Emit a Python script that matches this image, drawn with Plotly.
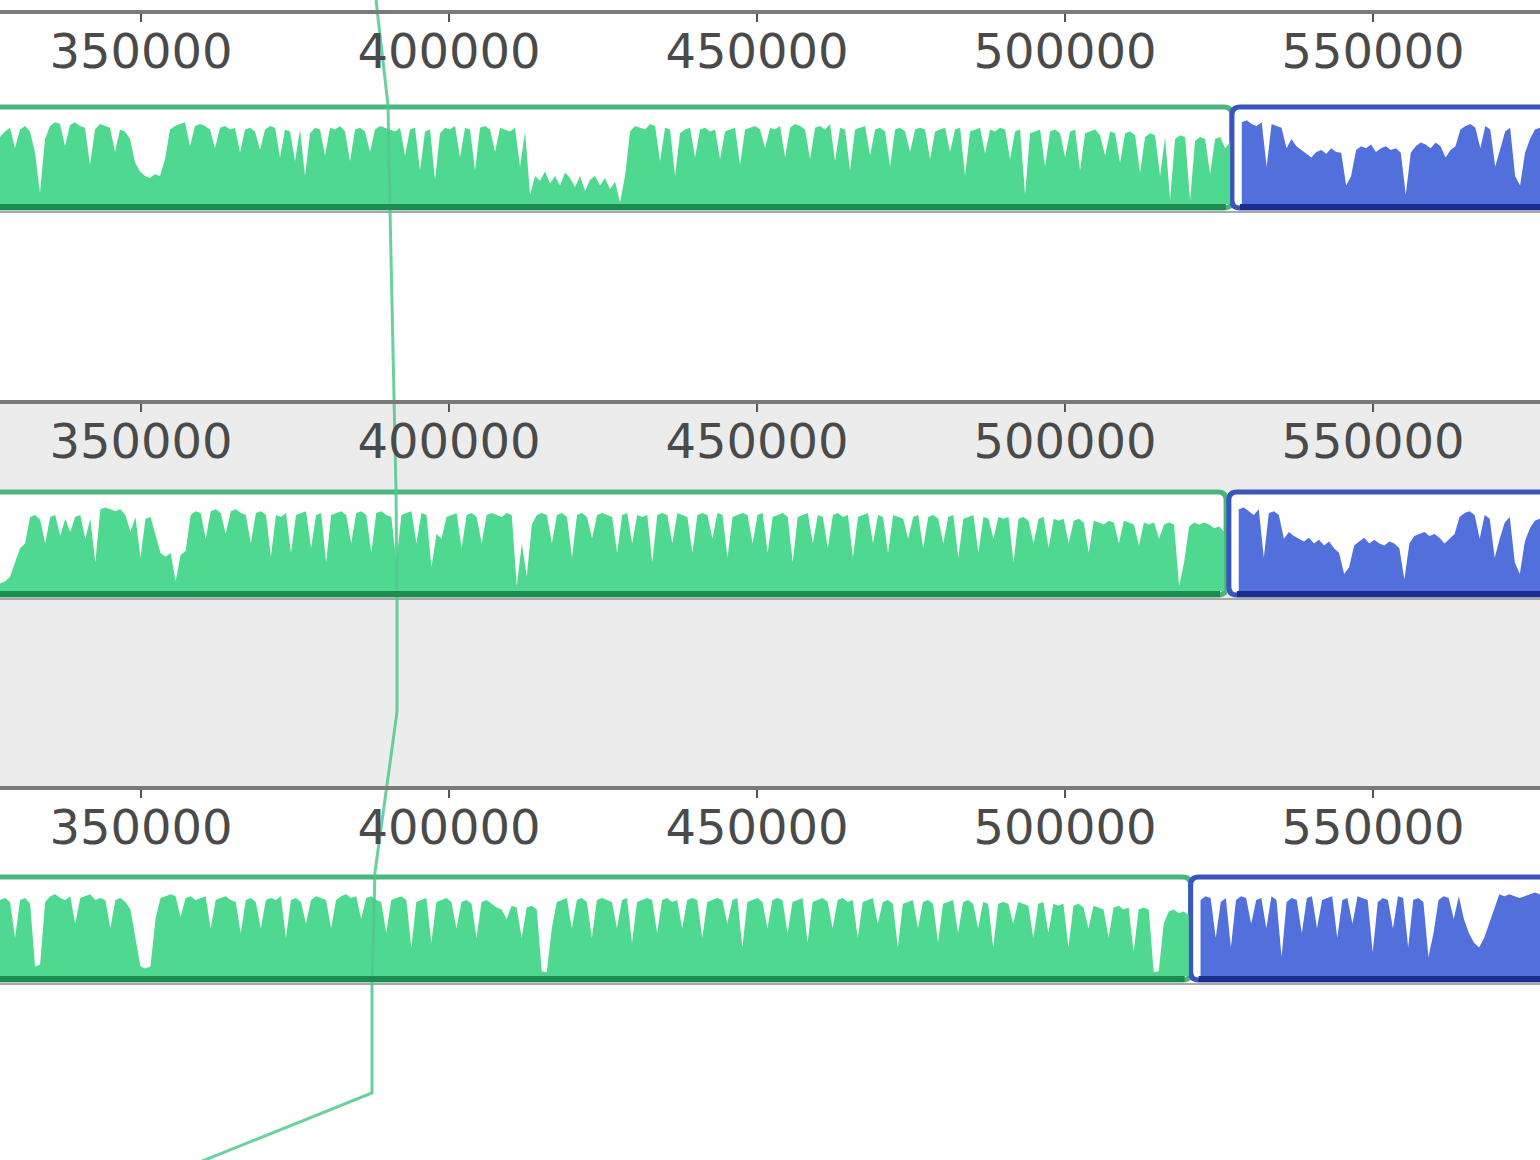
import numpy as np
import plotly.graph_objects as go

# ---------------- data ----------------
view_range = [327110, 577110]
tick_values = [350000, 400000, 450000, 500000, 550000]
tick_labels = ["350000", "400000", "450000", "500000", "550000"]

# LCB block extents (genome coordinates) per genome track
green_start = [320000, 320000, 320000]
green_end = [527100, 526150, 520400]
blue_start = [528400, 527900, 521700]
blue_end = [600000, 600000, 600000]

# conservation profiles (fraction of block height), read left to right
green_profile_1 = [
    0.72, 0.78, 0.82, 0.60, 0.80, 0.84, 0.78, 0.55, 0.12, 0.70,
    0.84, 0.88, 0.86, 0.62, 0.85, 0.88, 0.84, 0.82, 0.42, 0.80,
    0.86, 0.84, 0.82, 0.56, 0.80, 0.78, 0.70, 0.45, 0.35, 0.30,
    0.28, 0.32, 0.30, 0.48, 0.80, 0.84, 0.86, 0.88, 0.62, 0.84,
    0.86, 0.84, 0.80, 0.60, 0.82, 0.84, 0.80, 0.82, 0.55, 0.80,
    0.82, 0.78, 0.58, 0.80, 0.84, 0.82, 0.50, 0.80, 0.78, 0.46,
    0.80, 0.30, 0.76, 0.82, 0.80, 0.52, 0.82, 0.80, 0.84, 0.78,
    0.46, 0.80, 0.82, 0.78, 0.56, 0.80, 0.84, 0.82, 0.80, 0.78,
    0.82, 0.52, 0.80, 0.82, 0.36, 0.78, 0.80, 0.26, 0.76, 0.82,
    0.80, 0.84, 0.50, 0.82, 0.80, 0.36, 0.82, 0.84, 0.80, 0.56,
    0.82, 0.80, 0.78, 0.82, 0.40, 0.78, 0.10, 0.30, 0.25, 0.35,
    0.22, 0.30, 0.20, 0.34, 0.28, 0.18, 0.30, 0.14, 0.26, 0.30,
    0.20, 0.28, 0.16, 0.24, 0.02, 0.30, 0.78, 0.84, 0.82, 0.80,
    0.86, 0.84, 0.46, 0.82, 0.80, 0.30, 0.76, 0.80, 0.82, 0.50,
    0.80, 0.82, 0.78, 0.80, 0.48, 0.78, 0.80, 0.82, 0.42, 0.80,
    0.82, 0.84, 0.80, 0.60, 0.82, 0.80, 0.84, 0.50, 0.82, 0.86,
    0.84, 0.80, 0.48, 0.82, 0.84, 0.80, 0.86, 0.46, 0.82, 0.80,
    0.36, 0.80, 0.82, 0.84, 0.52, 0.80, 0.82, 0.78, 0.40, 0.80,
    0.82, 0.78, 0.56, 0.80, 0.82, 0.80, 0.48, 0.78, 0.80, 0.82,
    0.56, 0.80, 0.82, 0.30, 0.78, 0.80, 0.82, 0.54, 0.80, 0.78,
    0.82, 0.80, 0.48, 0.78, 0.80, 0.10, 0.76, 0.78, 0.80, 0.40,
    0.78, 0.80, 0.76, 0.50, 0.78, 0.80, 0.36, 0.76, 0.78, 0.80,
    0.74, 0.52, 0.78, 0.76, 0.44, 0.76, 0.78, 0.74, 0.34, 0.72,
    0.76, 0.74, 0.30, 0.72, 0.05, 0.70, 0.74, 0.72, 0.04, 0.68,
    0.72, 0.70, 0.32, 0.70, 0.72, 0.60, 0.66]
green_profile_2 = [
    0.08, 0.10, 0.15, 0.30, 0.45, 0.50, 0.78, 0.80, 0.75, 0.50,
    0.78, 0.80, 0.58, 0.76, 0.62, 0.78, 0.80, 0.55, 0.76, 0.30,
    0.86, 0.88, 0.86, 0.84, 0.86, 0.80, 0.62, 0.78, 0.35, 0.76,
    0.78, 0.60, 0.40, 0.36, 0.40, 0.10, 0.38, 0.42, 0.80, 0.84,
    0.82, 0.55, 0.84, 0.86, 0.82, 0.60, 0.84, 0.86, 0.82, 0.80,
    0.50, 0.82, 0.84, 0.80, 0.36, 0.80, 0.78, 0.82, 0.40, 0.80,
    0.82, 0.84, 0.45, 0.80, 0.82, 0.30, 0.80, 0.82, 0.84, 0.80,
    0.50, 0.82, 0.84, 0.80, 0.40, 0.82, 0.84, 0.80, 0.78, 0.30,
    0.80, 0.82, 0.84, 0.50, 0.82, 0.80, 0.25, 0.60, 0.55, 0.78,
    0.80, 0.82, 0.45, 0.80, 0.82, 0.78, 0.50, 0.80, 0.82, 0.80,
    0.78, 0.82, 0.80, 0.05, 0.50, 0.15, 0.70, 0.80, 0.82, 0.80,
    0.50, 0.80, 0.82, 0.78, 0.35, 0.80, 0.82, 0.78, 0.55, 0.80,
    0.82, 0.80, 0.78, 0.40, 0.80, 0.82, 0.50, 0.80, 0.78, 0.80,
    0.30, 0.80, 0.82, 0.80, 0.50, 0.82, 0.80, 0.78, 0.40, 0.80,
    0.82, 0.80, 0.55, 0.82, 0.80, 0.35, 0.78, 0.80, 0.82, 0.80,
    0.50, 0.80, 0.82, 0.40, 0.78, 0.80, 0.82, 0.78, 0.30, 0.78,
    0.80, 0.82, 0.50, 0.80, 0.78, 0.45, 0.80, 0.82, 0.78, 0.80,
    0.35, 0.78, 0.80, 0.82, 0.50, 0.80, 0.78, 0.40, 0.80, 0.78,
    0.76, 0.55, 0.78, 0.80, 0.45, 0.78, 0.80, 0.76, 0.50, 0.78,
    0.80, 0.35, 0.76, 0.78, 0.80, 0.40, 0.78, 0.76, 0.55, 0.78,
    0.76, 0.78, 0.30, 0.76, 0.78, 0.74, 0.50, 0.76, 0.78, 0.45,
    0.76, 0.74, 0.76, 0.50, 0.74, 0.76, 0.72, 0.40, 0.74, 0.72,
    0.70, 0.74, 0.72, 0.50, 0.74, 0.72, 0.70, 0.48, 0.72, 0.70,
    0.72, 0.55, 0.70, 0.72, 0.70, 0.05, 0.30, 0.68, 0.72, 0.70,
    0.72, 0.70, 0.66, 0.68, 0.62]
green_profile_3 = [
    0.80, 0.82, 0.78, 0.40, 0.80, 0.82, 0.76, 0.10, 0.12, 0.78,
    0.84, 0.86, 0.82, 0.80, 0.84, 0.55, 0.82, 0.84, 0.86, 0.80,
    0.82, 0.80, 0.50, 0.80, 0.82, 0.78, 0.70, 0.40, 0.10, 0.08,
    0.10, 0.60, 0.82, 0.84, 0.86, 0.84, 0.62, 0.82, 0.84, 0.80,
    0.82, 0.84, 0.50, 0.80, 0.82, 0.84, 0.80, 0.78, 0.45, 0.80,
    0.82, 0.78, 0.50, 0.80, 0.82, 0.80, 0.84, 0.40, 0.80, 0.82,
    0.78, 0.55, 0.80, 0.84, 0.82, 0.80, 0.50, 0.80, 0.84, 0.86,
    0.82, 0.84, 0.60, 0.82, 0.84, 0.80, 0.78, 0.45, 0.80, 0.82,
    0.84, 0.80, 0.30, 0.78, 0.80, 0.82, 0.35, 0.78, 0.80, 0.82,
    0.78, 0.50, 0.78, 0.80, 0.76, 0.40, 0.78, 0.80, 0.76, 0.72,
    0.70, 0.60, 0.74, 0.72, 0.40, 0.72, 0.74, 0.70, 0.05, 0.04,
    0.50, 0.78, 0.80, 0.82, 0.50, 0.80, 0.82, 0.78, 0.40, 0.80,
    0.82, 0.80, 0.78, 0.50, 0.80, 0.82, 0.35, 0.78, 0.80, 0.82,
    0.80, 0.45, 0.80, 0.82, 0.78, 0.80, 0.50, 0.80, 0.82, 0.80,
    0.40, 0.78, 0.80, 0.82, 0.80, 0.55, 0.80, 0.82, 0.30, 0.78,
    0.80, 0.82, 0.78, 0.50, 0.80, 0.82, 0.80, 0.45, 0.78, 0.80,
    0.82, 0.35, 0.78, 0.80, 0.82, 0.78, 0.50, 0.80, 0.82, 0.78,
    0.80, 0.40, 0.78, 0.80, 0.82, 0.55, 0.78, 0.80, 0.76, 0.30,
    0.76, 0.78, 0.80, 0.50, 0.78, 0.80, 0.76, 0.35, 0.76, 0.78,
    0.80, 0.45, 0.78, 0.80, 0.76, 0.50, 0.78, 0.76, 0.30, 0.76,
    0.78, 0.76, 0.55, 0.78, 0.76, 0.74, 0.40, 0.76, 0.78, 0.45,
    0.76, 0.74, 0.76, 0.30, 0.74, 0.76, 0.72, 0.50, 0.74, 0.72,
    0.70, 0.40, 0.72, 0.74, 0.70, 0.72, 0.25, 0.70, 0.72, 0.70,
    0.04, 0.05, 0.55, 0.68, 0.70, 0.66, 0.68, 0.64]
blue_profile_1 = [
    0.88, 0.90, 0.86, 0.84, 0.88, 0.40, 0.86, 0.84, 0.82, 0.60,
    0.70, 0.62, 0.58, 0.55, 0.50, 0.56, 0.58, 0.54, 0.60, 0.56,
    0.55, 0.20, 0.30, 0.58, 0.62, 0.60, 0.64, 0.56, 0.60, 0.62,
    0.58, 0.60, 0.55, 0.10, 0.55, 0.62, 0.66, 0.64, 0.60, 0.66,
    0.62, 0.50, 0.58, 0.62, 0.80, 0.84, 0.86, 0.82, 0.60, 0.84,
    0.80, 0.40, 0.60, 0.78, 0.82, 0.30, 0.20, 0.55, 0.70, 0.80,
    0.82, 0.80]
blue_profile_2 = [
    0.86, 0.88, 0.84, 0.80, 0.86, 0.35, 0.82, 0.84, 0.80, 0.55,
    0.62, 0.58, 0.55, 0.52, 0.56, 0.50, 0.54, 0.48, 0.52, 0.45,
    0.40, 0.18, 0.25, 0.48, 0.52, 0.56, 0.50, 0.54, 0.50, 0.48,
    0.52, 0.50, 0.45, 0.12, 0.50, 0.58, 0.60, 0.62, 0.58, 0.60,
    0.56, 0.50, 0.55, 0.60, 0.78, 0.82, 0.84, 0.80, 0.55, 0.80,
    0.76, 0.35, 0.55, 0.72, 0.78, 0.30, 0.18, 0.52, 0.66, 0.74,
    0.76, 0.74]
blue_profile_3 = [
    0.80, 0.84, 0.82, 0.40, 0.78, 0.82, 0.30, 0.80, 0.84, 0.82,
    0.55, 0.80, 0.82, 0.50, 0.84, 0.80, 0.20, 0.78, 0.82, 0.80,
    0.45, 0.82, 0.84, 0.50, 0.80, 0.82, 0.84, 0.40, 0.80, 0.82,
    0.55, 0.84, 0.82, 0.80, 0.25, 0.78, 0.82, 0.80, 0.50, 0.84,
    0.82, 0.30, 0.80, 0.82, 0.78, 0.20, 0.45, 0.80, 0.84, 0.82,
    0.60, 0.84, 0.60, 0.45, 0.35, 0.30, 0.40, 0.55, 0.70, 0.86,
    0.84, 0.86, 0.84, 0.82, 0.84, 0.86, 0.88, 0.86, 0.84]

# LCB connecting line: genome position at each vertical anchor
connector_x = [388150, 390099, 390423, 391397, 391559, 391559, 387988, 387500, 387500, 352270]

# ---------------- layout constants (pixels) ----------------
W, H = 1540, 1160
axis_line_y = [12, 402, 788]
block_top = [107, 492, 877]
block_bot = [208, 595, 980]
connector_y = [0, 105, 210, 490, 600, 712, 872, 985, 1093, 1180]

GREEN_FILL = "#4fd890"
GREEN_EDGE = "#4ab57f"
GREEN_EDGE_DARK = "#1f8c4f"
BLUE_FILL = "#5270dc"
BLUE_EDGE = "#3a55bd"
BLUE_EDGE_DARK = "#1d2d8e"

fig = go.Figure()
shapes = []

# highlighted (middle) genome panel background
shapes.append(dict(type="rect", xref="paper", yref="y", x0=0, x1=1,
                   y0=axis_line_y[1], y1=axis_line_y[2], fillcolor="#ececec",
                   line=dict(width=0), layer="below"))

px_per_unit = W / (view_range[1] - view_range[0])


def block_path(x0, x1, y0, y1, r_px=8):
    rx = r_px / px_per_unit
    return (f"M {x0},{y0} L {x1 - rx},{y0} Q {x1},{y0} {x1},{y0 + r_px} "
            f"L {x1},{y1 - r_px} Q {x1},{y1} {x1 - rx},{y1} L {x0},{y1} "
            f"Q {x0 - rx},{y1} {x0 - rx},{y1 - r_px} L {x0 - rx},{y0 + r_px} "
            f"Q {x0 - rx},{y0} {x0},{y0} Z")


profiles = [(green_profile_1, blue_profile_1),
            (green_profile_2, blue_profile_2),
            (green_profile_3, blue_profile_3)]

for t in range(3):
    top, bot = block_top[t], block_bot[t]
    for (s, e, edge) in [(green_start[t], green_end[t], GREEN_EDGE),
                         (blue_start[t], blue_end[t], BLUE_EDGE)]:
        shapes.append(dict(type="path", xref="x", yref="y",
                           path=block_path(s, e, top, bot),
                           fillcolor="white", line=dict(color=edge, width=5),
                           layer="below"))
    # thin shadow line under the blocks
    shapes.append(dict(type="line", xref="paper", yref="y", x0=0, x1=1,
                       y0=bot + 4, y1=bot + 4, line=dict(color="#a8a8a8", width=2),
                       layer="below"))
    gprof, bprof = profiles[t]
    inner_top, inner_bot = top + 4, bot - 4
    # green profile
    gx = np.linspace(view_range[0], green_end[t] - 300, len(gprof))
    gy = inner_bot - np.array(gprof) * (inner_bot - inner_top)
    fig.add_trace(go.Scatter(
        x=np.concatenate([[view_range[0] - 2000, view_range[0] - 2000], gx, [green_end[t] - 300]]),
        y=np.concatenate([[inner_bot, gy[0]], gy, [inner_bot]]),
        fill="toself", fillcolor=GREEN_FILL, mode="lines", line=dict(width=0),
        hoverinfo="skip", showlegend=False))
    # blue profile
    bx = np.linspace(blue_start[t] + 300, view_range[1] + 800, len(bprof))
    by = inner_bot - np.array(bprof) * (inner_bot - inner_top)
    fig.add_trace(go.Scatter(
        x=np.concatenate([[blue_start[t] + 300], bx, [view_range[1] + 800]]),
        y=np.concatenate([[inner_bot], by, [inner_bot]]),
        fill="toself", fillcolor=BLUE_FILL, mode="lines", line=dict(width=0),
        hoverinfo="skip", showlegend=False))
    # darker bottom edge of blocks
    for (s, e, dark) in [(green_start[t], green_end[t], GREEN_EDGE_DARK),
                         (blue_start[t], blue_end[t], BLUE_EDGE_DARK)]:
        shapes.append(dict(type="line", xref="x", yref="y",
                           x0=s, x1=e - 6 / px_per_unit, y0=bot - 1, y1=bot - 1,
                           line=dict(color=dark, width=6), layer="above"))

# LCB connector line
fig.add_trace(go.Scatter(x=connector_x, y=connector_y, mode="lines",
                         line=dict(color="rgba(80,200,140,0.85)", width=3),
                         hoverinfo="skip", showlegend=False))

layout_axes = {}
for i, ly in enumerate(axis_line_y):
    name = f"xaxis{i + 2}"
    layout_axes[name] = dict(
        overlaying="x", anchor="free", position=1 - ly / H, side="bottom",
        range=view_range, showline=True, linecolor="#7a7a7a", linewidth=4,
        ticks="outside", ticklen=8, tickwidth=2, tickcolor="#555555",
        tickvals=tick_values, ticktext=tick_labels, ticklabelstandoff=-12,
        tickfont=dict(family="DejaVu Sans", size=48, color="#4a4a4a"),
        showgrid=False, zeroline=False, fixedrange=True)
    fig.add_trace(go.Scatter(x=[view_range[0]], y=[-100], xaxis=f"x{i + 2}", yaxis="y",
                             mode="markers", marker=dict(opacity=0),
                             hoverinfo="skip", showlegend=False))

fig.update_layout(
    width=W, height=H, margin=dict(l=0, r=0, t=0, b=0),
    paper_bgcolor="white", plot_bgcolor="white",
    xaxis=dict(range=view_range, visible=False, domain=[0, 1], fixedrange=True),
    yaxis=dict(range=[H, 0], visible=False, domain=[0, 1], fixedrange=True),
    shapes=shapes, showlegend=False,
    **layout_axes,
)

fig.write_html("out.html")
